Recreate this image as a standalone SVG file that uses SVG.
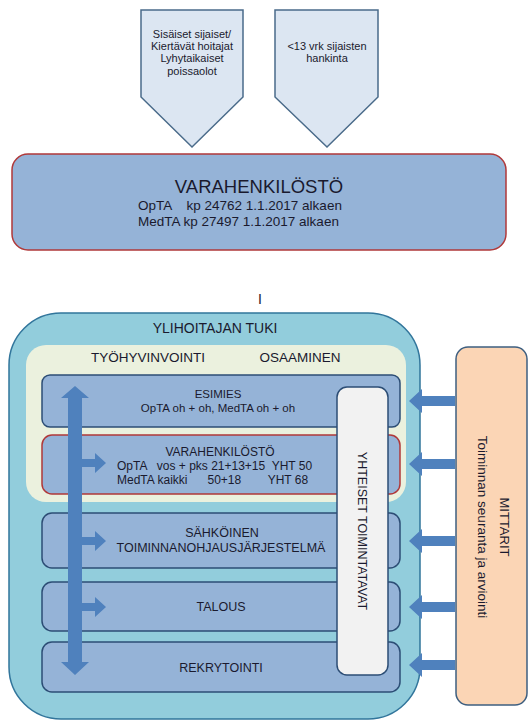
<svg xmlns="http://www.w3.org/2000/svg" width="529" height="722" viewBox="0 0 529 722">
<style>
text{font-family:"Liberation Sans","Open Sans",sans-serif;fill:#1a1a2e}
.pent{fill:#dce6f2;stroke:#4a6b8a;stroke-width:1.5}
.box{fill:#95b3d7;stroke:#2c4d75;stroke-width:1.5}
.red{stroke:#b0393a}
.arr{fill:#4f81bd}
.s10{font-size:11px}
.s11{font-size:11.5px}
.s12{font-size:12px}
</style>
<rect width="529" height="722" fill="#ffffff"/>
<g id="pent1">
<polygon class="pent" points="141,10 243,10 243,97 192,147 141,97"/>
<text class="s10" text-anchor="middle" x="192" y="38">Sisäiset sijaiset/</text>
<text class="s10" text-anchor="middle" x="192" y="50">Kiertävät hoitajat</text>
<text class="s10" text-anchor="middle" x="192" y="62">Lyhytaikaiset</text>
<text class="s10" text-anchor="middle" x="192" y="75">poissaolot</text>
</g>
<g id="pent2">
<polygon class="pent" points="275,10 378,10 378,97 327,147 275,97"/>
<text class="s10" text-anchor="middle" x="327" y="50">&lt;13 vrk sijaisten</text>
<text class="s10" text-anchor="middle" x="327" y="62">hankinta</text>
</g>
<g id="vara-top">
<rect x="12" y="154" width="494" height="96" rx="16" fill="#95b3d7" stroke="#b0393a" stroke-width="1.5"/>
<text x="259" y="193" text-anchor="middle" font-size="18.5">VARAHENKILÖSTÖ</text>
<text x="138" y="210" font-size="13.5" xml:space="preserve">OpTA    kp 24762 1.1.2017 alkaen</text>
<text x="138" y="226" font-size="13.5" xml:space="preserve">MedTA kp 27497 1.1.2017 alkaen</text>
</g>
<text x="260" y="304" text-anchor="middle" font-size="14">I</text>
<g id="ylihoitajan-tuki">
<rect x="9" y="313" width="411" height="406" rx="52" fill="#92cddc" stroke="#31759b" stroke-width="1.5"/>
<text x="215" y="333" text-anchor="middle" font-size="14">YLIHOITAJAN TUKI</text>
</g>
<g id="tyohyvinvointi">
<rect x="26" y="345" width="380" height="157" rx="20" fill="#ebf1de"/>
<text x="148" y="362" text-anchor="middle" font-size="13.5">TYÖHYVINVOINTI</text>
<text x="300" y="362" text-anchor="middle" font-size="13.5">OSAAMINEN</text>
</g>
<g id="esimies">
<rect class="box" x="42" y="375" width="358" height="52" rx="8"/>
<text class="s11" x="218" y="398" text-anchor="middle">ESIMIES</text>
<text class="s11" x="218" y="412" text-anchor="middle">OpTA oh + oh, MedTA oh + oh</text>
</g>
<g id="varahenkilosto">
<rect class="box red" x="42" y="435" width="358" height="59" rx="10"/>
<text class="s12" x="220" y="456" text-anchor="middle">VARAHENKILÖSTÖ</text>
<text class="s12" x="117" y="470" xml:space="preserve">OpTA   vos + pks 21+13+15  YHT 50</text>
<text class="s12" x="117" y="484" xml:space="preserve">MedTA kaikki      50+18        YHT 68</text>
</g>
<g id="sahkoinen">
<rect class="box" x="42" y="513" width="358" height="55" rx="10"/>
<text x="222" y="537" text-anchor="middle" font-size="12.5">SÄHKÖINEN</text>
<text x="221" y="552" text-anchor="middle" font-size="12.5">TOIMINNANOHJAUSJÄRJESTELMÄ</text>
</g>
<g id="talous">
<rect class="box" x="42" y="582" width="358" height="49" rx="10"/>
<text x="221" y="611" text-anchor="middle" font-size="12.5">TALOUS</text>
</g>
<g id="rekrytointi">
<rect class="box" x="42" y="642" width="358" height="50" rx="10"/>
<text x="221" y="672" text-anchor="middle" font-size="12.5">REKRYTOINTI</text>
</g>
<g id="yhteiset">
<rect x="337" y="387" width="51" height="288" rx="10" fill="#f2f2f2" stroke="#2c4d75" stroke-width="1.5"/>
<text transform="translate(358,531) rotate(90)" text-anchor="middle" font-size="12.5">YHTEISET TOIMINTATAVAT</text>
</g>
<g id="mittarit">
<rect x="456" y="347" width="71" height="358" rx="12" fill="#fbd5b5" stroke="#3e5f80" stroke-width="1.5"/>
<text transform="translate(500,527) rotate(90)" text-anchor="middle" font-size="13">MITTARIT</text>
<text transform="translate(478,527) rotate(90)" text-anchor="middle" font-size="13.5">Toiminnan seuranta ja arviointi</text>
</g>
<g id="connectors">
<polygon class="arr" points="75,386 89,398 82,398 82,662 89,662 75,675 61,662 68,662 68,398 61,398"/>
<polygon class="arr" points="82,459 95,459 95,453 106,463 95,473 95,467 82,467"/>
<polygon class="arr" points="82,537 95,537 95,531 106,541 95,551 95,545 82,545"/>
<polygon class="arr" points="82,603 95,603 95,597 106,607 95,617 95,611 82,611"/>
<polygon class="arr" points="455,396 422,396 422,389 409,401 422,413 422,406 455,406"/>
<polygon class="arr" points="455,459 422,459 422,452 409,464 422,476 422,469 455,469"/>
<polygon class="arr" points="455,536 422,536 422,529 409,541 422,553 422,546 455,546"/>
<polygon class="arr" points="455,602 422,602 422,595 409,607 422,619 422,612 455,612"/>
<polygon class="arr" points="455,660 422,660 422,653 409,665 422,677 422,670 455,670"/>
</g>
</svg>
